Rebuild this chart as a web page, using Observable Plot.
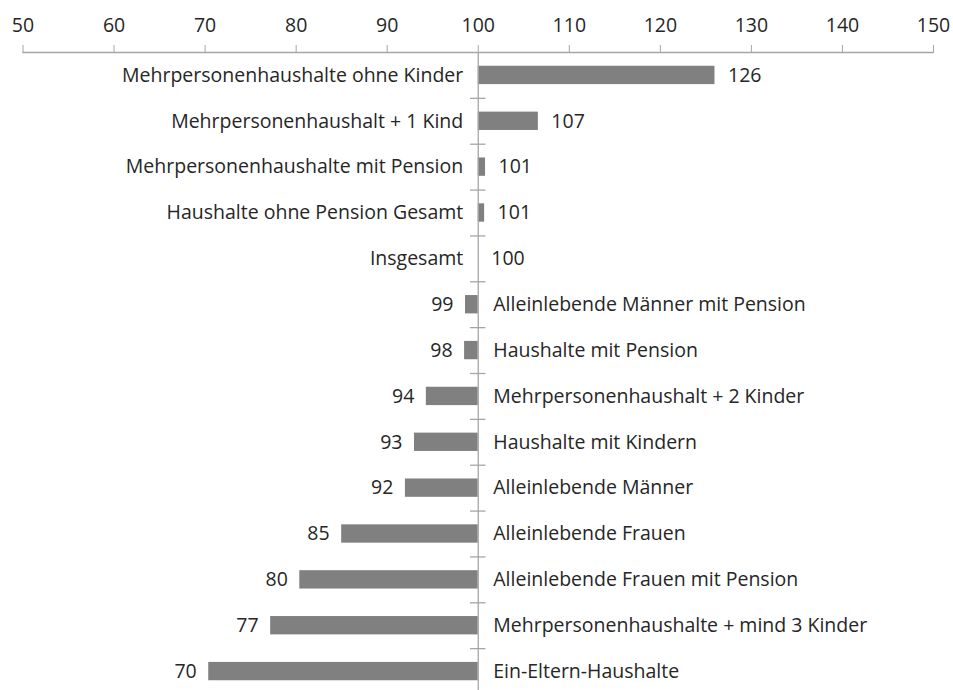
<!DOCTYPE html>
<html>
<head>
<meta charset="utf-8">
<script src="https://cdn.jsdelivr.net/npm/d3@7"></script>
<script src="https://cdn.jsdelivr.net/npm/@observablehq/plot@0.6"></script>
<style>
  html, body { margin: 0; padding: 0; background: #fff; }
  #chart svg { display: block; }
</style>
</head>
<body>
<div id="chart"></div>
<script>
const categories = [
  "Mehrpersonenhaushalte ohne Kinder",
  "Mehrpersonenhaushalt + 1 Kind",
  "Mehrpersonenhaushalte mit Pension",
  "Haushalte ohne Pension Gesamt",
  "Insgesamt",
  "Alleinlebende Männer mit Pension",
  "Haushalte mit Pension",
  "Mehrpersonenhaushalt + 2 Kinder",
  "Haushalte mit Kindern",
  "Alleinlebende Männer",
  "Alleinlebende Frauen",
  "Alleinlebende Frauen mit Pension",
  "Mehrpersonenhaushalte + mind 3 Kinder",
  "Ein-Eltern-Haushalte"
];
const values = [126.0, 106.6, 100.8, 100.7, 100.0, 98.6, 98.5, 94.3, 93.0, 92.0, 85.0, 80.4, 77.2, 70.4];
const valueLabels = ["126", "107", "101", "101", "100", "99", "98", "94", "93", "92", "85", "80", "77", "70"];
const xTicks = [50, 60, 70, 80, 90, 100, 110, 120, 130, 140, 150];
const baseline = 100;

const data = categories.map((c, i) => ({cat: c, value: values[i], label: valueLabels[i]}));
const above = data.filter(d => d.value >= baseline);
const below = data.filter(d => d.value < baseline);

const W = 953, H = 690;
const yTop = 52, yBottom = 694;
const step = (yBottom - yTop) / categories.length;
const textColor = "#262626";
const axisColor = "#a6a6a6";
const font = "Open Sans, sans-serif";
const fs = 19.5;

const chart = Plot.plot({
  width: W,
  height: H,
  marginTop: yTop,
  marginBottom: 0,
  marginLeft: 22.5,
  marginRight: 20,
  style: {fontFamily: font, fontSize: fs + "px", color: textColor, background: "#fff"},
  x: {domain: [50, 150], range: [22.5, 933], axis: null, label: null},
  y: {domain: categories, range: [yTop, yBottom], paddingInner: 0.6, paddingOuter: 0.3, round: false, axis: null, label: null},
  marks: [
    // top axis line (top edge of the first band)
    Plot.ruleY([categories[0]], {y: d => d, x1: 50, x2: 150, dy: -step / 2, stroke: axisColor, strokeWidth: 1.3}),
    // top axis ticks and labels
    Plot.axisX(xTicks, {anchor: "top", label: null, tickSize: 8, tickPadding: 13, stroke: axisColor, fill: textColor, fontSize: fs, tickFormat: d => String(d)}),
    // bars
    Plot.barX(data, {y: "cat", x1: baseline, x2: "value", fill: "#808080"}),
    // vertical baseline
    Plot.ruleX([baseline], {stroke: axisColor, strokeWidth: 1.3}),
    // small ticks at category boundaries
    Plot.ruleY(categories.slice(1), {y: d => d, x1: 99.15, x2: 100.85, dy: -step / 2, stroke: axisColor, strokeWidth: 1.3}),
    // category labels
    Plot.text(above, {y: "cat", x: baseline, text: "cat", textAnchor: "end", dx: -15, fill: textColor, fontSize: fs}),
    Plot.text(below, {y: "cat", x: baseline, text: "cat", textAnchor: "start", dx: 15, fill: textColor, fontSize: fs}),
    // value labels
    Plot.text(above, {y: "cat", x: "value", text: "label", textAnchor: "start", dx: 13, fill: textColor, fontSize: fs}),
    Plot.text(below, {y: "cat", x: "value", text: "label", textAnchor: "end", dx: -12, fill: textColor, fontSize: fs})
  ]
});
document.getElementById("chart").appendChild(chart);
</script>
</body>
</html>
